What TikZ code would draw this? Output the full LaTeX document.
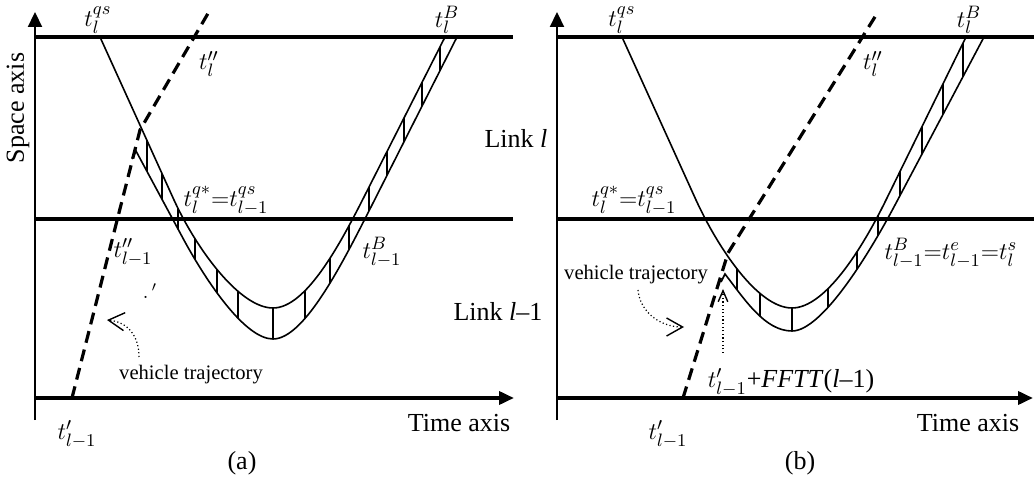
\documentclass[tikz,border=0pt]{standalone}
\usepackage{fontspec}
\setmainfont{Liberation Serif}
\usetikzlibrary{arrows.meta,intersections}
\begin{document}
\begin{tikzpicture}[x=0.5pt,y=-0.5pt,
  thickln/.style={line width=1.8pt},
  axisln/.style={line width=1.1pt},
  curveln/.style={line width=0.8pt},
  hatchln/.style={line width=0.8pt},
  traj/.style={line width=1.6pt, dash pattern=on 6pt off 3.5pt},
  dotln/.style={line width=0.6pt, dash pattern=on 0.6pt off 1.2pt},
  bigbarb/.style={-{Straight Barb[length=8pt,width=9pt,line width=0.7pt]}},
  smallbarb/.style={-{Straight Barb[length=5.5pt,width=4.8pt,line width=0.7pt]}},
  lbl/.style={font=\fontsize{13}{15}\selectfont, inner sep=0pt},
  small/.style={font=\fontsize{10.3}{12}\selectfont, inner sep=0pt}]
\useasboundingbox (0,0) rectangle (1034,486);

% ---------- panel (a) ----------
\draw[axisln, -{Triangle[length=7.5pt,width=7pt]}] (35,420) -- (35,12);
\draw[thickln] (35,37) -- (513,37);
\draw[thickln] (35,219) -- (513,219);
\draw[thickln, -{Triangle[length=7.5pt,width=6.5pt]}] (35,398) -- (514,398);

\draw[curveln, name path=upA] (100,37) -- (174,200)
  .. controls (197,250) and (240,308) .. (273,308)
  .. controls (306,308) and (340,244.5) .. (365,195) -- (445,37);
\draw[curveln, name path=loA] (132,159) -- (136,151) -- (185,242)
  .. controls (207,282) and (245,339) .. (273,339)
  .. controls (305,339) and (344,260) .. (372,205) -- (457,37);
\foreach \hx in {147,162,178,195,217,238,273,305,330,349,369,387,404,422,440}{
  \path[name path=vl] (\hx,0) -- (\hx,486);
  \path[name intersections={of=vl and upA, by={hu}}];
  \path[name intersections={of=vl and loA, by={hl}}];
  \draw[hatchln] (hu) -- (hl);
}
\draw[traj] (72,398) -- (140,130) -- (210,10);

\coordinate (vsA) at (139,357);
\coordinate (veA) at (107,320);
\draw[dotln, bigbarb] (vsA) .. controls (139,336) and (128,322) .. (veA);

\node[lbl, rotate=90] (spA) at (18,108) {Space axis};
\node[lbl] (tqsA) at (98,20) {$t_l^{qs}$};
\node[lbl] (tBA) at (447,20) {$t_l^{B}$};
\node[lbl] (tppA) at (209,64) {$t''_l$};
\node[lbl] (tqA) at (226,201) {$t_l^{q*}{=}t_{l-1}^{qs}$};
\node[lbl] (tpplA) at (133,252) {$t''_{l-1}$};
\node[lbl] (tBlA) at (382,252) {$t_{l-1}^{B}$};
\node[small] (strA) at (150,291) {$.\,'$};
\node[small] (vtA) at (191,375) {vehicle trajectory};
\node[lbl] (tpA) at (77,434) {$t'_{l-1}$};
\node[lbl] (taA) at (459,423) {Time axis};
\node[lbl] (capA) at (242,463) {(a)};

% ---------- shared labels ----------
\node[lbl] (linkl) at (516,138) {Link \textit{l}};
\node[lbl] (linklm) at (498,311) {Link \textit{l}–1};

% ---------- panel (b) ----------
\draw[axisln, -{Triangle[length=7.5pt,width=7pt]}] (557,420) -- (557,12);
\draw[thickln] (557,37) -- (1034,37);
\draw[thickln] (557,219) -- (1034,219);
\draw[thickln, -{Triangle[length=7.5pt,width=6.5pt]}] (557,398) -- (1033,398);

\draw[curveln, name path=upB] (622,37) -- (696,200)
  .. controls (718,248) and (758,308) .. (792,308)
  .. controls (825,308) and (862,249) .. (886,200) -- (966,37);
\draw[curveln, name path=loB] (721,282) -- (725,274)
  .. controls (745,300) and (765,331) .. (792,331)
  .. controls (822,331) and (869,254) .. (895,205) -- (984,37);
\foreach \hx in {737,760,792,828,857,878,900,922,943,963}{
  \path[name path=vl] (\hx,0) -- (\hx,486);
  \path[name intersections={of=vl and upB, by={hu}}];
  \path[name intersections={of=vl and loB, by={hl}}];
  \draw[hatchln] (hu) -- (hl);
}
\draw[traj] (683,398) -- (728,253) -- (878,12);

\coordinate (vsB) at (638,290);
\coordinate (veB) at (684,327);
\draw[dotln, bigbarb] (vsB) .. controls (640,312) and (660,327) .. (veB);
\coordinate (fsB) at (723,353);
\coordinate (feB) at (723,289);
\draw[dotln, smallbarb] (fsB) -- (feB);

\node[lbl] (tqsB) at (622,20) {$t_l^{qs}$};
\node[lbl] (tBB) at (969,20) {$t_l^{B}$};
\node[lbl] (tppB) at (873,64) {$t''_l$};
\node[lbl] (tqB) at (634,201) {$t_l^{q*}{=}t_{l-1}^{qs}$};
\node[lbl] (tBlB) at (951,253) {$t_{l-1}^{B}{=}t_{l-1}^{e}{=}t_l^{s}$};
\node[small] (vtB) at (636,275) {vehicle trajectory};
\node[lbl] (ffB) at (791,382) {$t'_{l-1}$+\textit{FFTT}(\textit{l}–1)};
\node[lbl] (tpB) at (668,434) {$t'_{l-1}$};
\node[lbl] (taB) at (968,423) {Time axis};
\node[lbl] (capB) at (800,463) {(b)};
\end{tikzpicture}
\end{document}
